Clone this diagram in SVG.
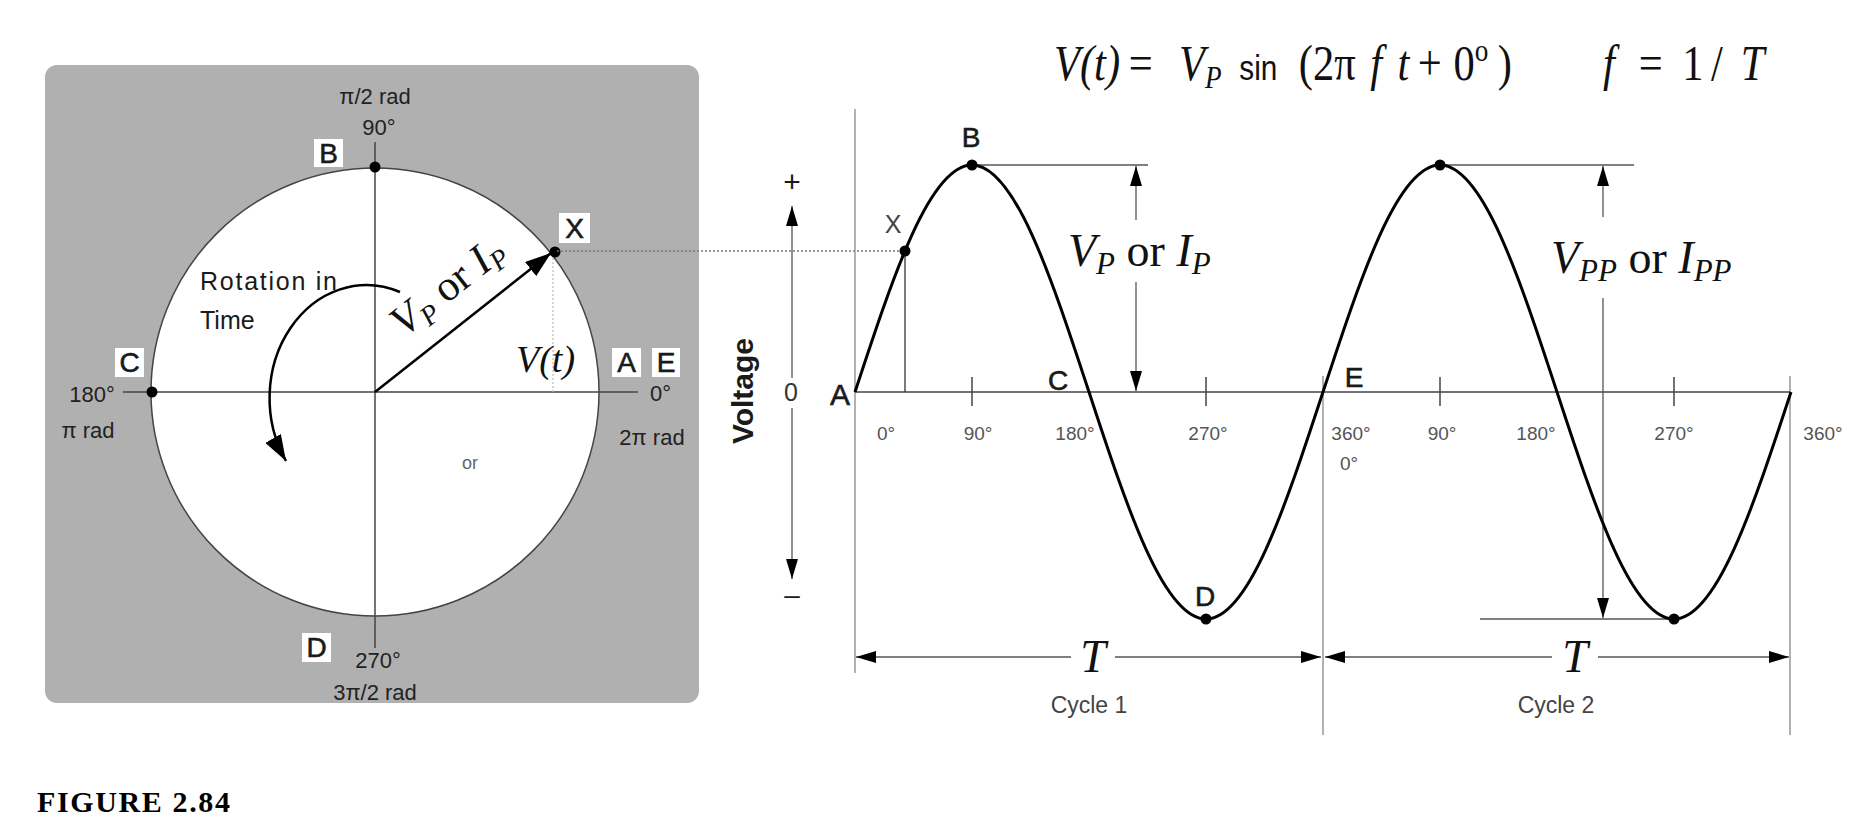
<svg xmlns="http://www.w3.org/2000/svg" width="1852" height="830" viewBox="0 0 1852 830">
<style>
.sans{font-family:"Liberation Sans",Arial,sans-serif;fill:#1a1a1a}
.serif{font-family:"Liberation Serif","Times New Roman",serif;fill:#111}
.it{font-style:italic}
.lbl{font-size:28px;stroke:#1a1a1a;stroke-width:0.6}
.ang{font-size:19px;fill:#555}
.cl{font-size:22px;fill:#222}
.box{fill:#fff}
.ax{stroke:#444;stroke-width:1.5;fill:none}
.gl{stroke:#999;stroke-width:1.5;fill:none}
.dim{stroke:#555;stroke-width:1.3;fill:none}
.dot{fill:#000}
</style>
<defs>
<marker id="ah" viewBox="0 0 20 12" refX="20" refY="6" markerWidth="20" markerHeight="12" markerUnits="userSpaceOnUse" orient="auto"><path d="M0,0 L20,6 L0,12 Z" fill="#000"/></marker>
<marker id="ahL" viewBox="0 0 26 18" refX="26" refY="9" markerWidth="26" markerHeight="18" markerUnits="userSpaceOnUse" orient="auto"><path d="M0,0 L26,9 L0,18 Z" fill="#000"/></marker>
</defs>

<!-- Left panel: phasor circle -->
<g id="phasor-panel">
<rect x="45" y="65" width="654" height="638" rx="12" fill="#b0b0b0"/>
<circle cx="375" cy="392" r="224" fill="#fff" stroke="#444" stroke-width="1.5"/>
<line class="ax" x1="123" y1="392" x2="638" y2="392"/>
<line class="ax" x1="375" y1="142" x2="375" y2="648"/>
<line x1="553" y1="254" x2="553" y2="392" stroke="#bbb" stroke-width="1.2" stroke-dasharray="2,2"/>
</g>

<g id="circle-labels">
<text class="sans cl" x="375" y="104" text-anchor="middle">π/2 rad</text>
<text class="sans cl" x="379" y="135" text-anchor="middle">90°</text>
<text class="sans cl" x="92" y="402" text-anchor="middle">180°</text>
<text class="sans cl" x="88" y="438" text-anchor="middle">π rad</text>
<text class="sans cl" x="650" y="401">0°</text>
<text class="sans cl" x="652" y="445" text-anchor="middle">2π rad</text>
<text class="sans cl" x="378" y="668" text-anchor="middle">270°</text>
<text class="sans cl" x="375" y="700" text-anchor="middle">3π/2 rad</text>
<text class="sans" x="200" y="290" font-size="25" textLength="137">Rotation in</text>
<text class="sans" x="200" y="329" font-size="25">Time</text>
<text class="sans" x="470" y="469" font-size="18" text-anchor="middle" style="fill:#666">or</text>
<text class="serif it" x="516" y="372" font-size="38">V(t)</text>
</g>

<g id="node-B-circle"><rect class="box" x="314" y="139" width="29" height="28"/><text class="sans lbl" x="328.5" y="163" text-anchor="middle">B</text></g>
<g id="node-C-circle"><rect class="box" x="115" y="348" width="29" height="29"/><text class="sans lbl" x="129.5" y="372" text-anchor="middle">C</text></g>
<g id="node-A-circle"><rect class="box" x="612" y="348" width="29" height="29"/><text class="sans lbl" x="626.5" y="372" text-anchor="middle">A</text></g>
<g id="node-E-circle"><rect class="box" x="652" y="348" width="28" height="29"/><text class="sans lbl" x="666" y="372" text-anchor="middle">E</text></g>
<g id="node-D-circle"><rect class="box" x="302" y="633" width="29" height="29"/><text class="sans lbl" x="316.5" y="657" text-anchor="middle">D</text></g>
<g id="node-X-circle"><rect class="box" x="559" y="213" width="31" height="30"/><text class="sans lbl" x="574.5" y="238" text-anchor="middle">X</text></g>

<g id="circle-phasor">
<line x1="375" y1="392" x2="551" y2="253" stroke="#000" stroke-width="2.5" marker-end="url(#ahL)"/>
<text class="serif" transform="translate(404,338) rotate(-38.4)" font-size="43"><tspan font-style="italic">V</tspan><tspan font-style="italic" font-size="28" dy="7">P</tspan><tspan dy="-7"> or </tspan><tspan font-style="italic">I</tspan><tspan font-style="italic" font-size="28" dy="7">P</tspan></text>
<path d="M400,292 A97,113 0 0 0 286,461" fill="none" stroke="#000" stroke-width="2.5" marker-end="url(#ahL)"/>
<circle class="dot" cx="375" cy="167" r="5.5"/>
<circle class="dot" cx="152" cy="392" r="5.5"/>
<circle class="dot" cx="555" cy="252" r="5.5"/>
</g>

<!-- Formula -->
<g id="formula">
<text class="serif it" y="80" font-size="50" transform="scale(0.85,1)"><tspan x="1240">V(t)</tspan><tspan x="1328" font-style="normal">=</tspan><tspan x="1387">V</tspan><tspan dy="8" font-size="32">P</tspan><tspan x="1458" dy="-8" font-style="normal" font-size="35" style="font-family:'Liberation Sans',Arial,sans-serif">sin</tspan><tspan x="1528" font-style="normal">(2π</tspan><tspan x="1612">f</tspan><tspan x="1644">t</tspan><tspan x="1668" font-style="normal">+</tspan><tspan x="1710" font-style="normal">0</tspan><tspan x="1735" dy="-19" font-size="32" font-style="normal">o</tspan><tspan x="1762" dy="19" font-style="normal">)</tspan><tspan x="1886">f</tspan><tspan x="1928" font-style="normal">=</tspan><tspan x="1979" font-style="normal">1</tspan><tspan x="2013" font-style="normal">/</tspan><tspan x="2048">T</tspan></text>
</g>

<!-- Right panel: waveform -->
<g id="connectors">
<line x1="557" y1="251" x2="905" y2="251" stroke="#777" stroke-width="1.4" stroke-dasharray="2,2"/>
<line class="gl" x1="855" y1="109" x2="855" y2="673"/>
<line class="gl" x1="1323" y1="376" x2="1323" y2="735"/>
<line class="gl" x1="1790" y1="376" x2="1790" y2="735"/>
<line class="ax" x1="855" y1="392" x2="1790" y2="392"/>
<line class="ax" x1="972" y1="377" x2="972" y2="406"/>
<line class="ax" x1="1206" y1="377" x2="1206" y2="406"/>
<line class="ax" x1="1440" y1="377" x2="1440" y2="406"/>
<line class="ax" x1="1674" y1="377" x2="1674" y2="406"/>
<line x1="905" y1="251" x2="905" y2="392" stroke="#333" stroke-width="1.3"/>
<!-- voltage axis arrow -->
<line class="dim" x1="792" y1="378" x2="792" y2="206" marker-end="url(#ah)"/>
<line class="dim" x1="792" y1="408" x2="792" y2="579" marker-end="url(#ah)"/>
<!-- Vp dimension -->
<line class="dim" x1="972" y1="165" x2="1148" y2="165"/>
<line class="dim" x1="1136" y1="220" x2="1136" y2="166" marker-end="url(#ah)"/>
<line class="dim" x1="1136" y1="282" x2="1136" y2="391" marker-end="url(#ah)"/>
<!-- Vpp dimension -->
<line class="dim" x1="1440" y1="165" x2="1634" y2="165"/>
<line class="dim" x1="1480" y1="619" x2="1674" y2="619"/>
<line class="dim" x1="1603" y1="217" x2="1603" y2="166" marker-end="url(#ah)"/>
<line class="dim" x1="1603" y1="298" x2="1603" y2="618" marker-end="url(#ah)"/>
<!-- period arrows -->
<line class="dim" x1="1071" y1="657" x2="856" y2="657" marker-end="url(#ah)"/>
<line class="dim" x1="1115" y1="657" x2="1321" y2="657" marker-end="url(#ah)"/>
<line class="dim" x1="1552" y1="657" x2="1325" y2="657" marker-end="url(#ah)"/>
<line class="dim" x1="1598" y1="657" x2="1789" y2="657" marker-end="url(#ah)"/>
</g>

<g id="sine-wave">
<path d="M855,392 C893.2,275.7 929.7,165 972,165 C1014.3,165 1050.8,275.7 1089,392 C1127.2,508.3 1163.7,619 1206,619 C1248.3,619 1284.8,508.3 1323,392 C1361.2,275.7 1397.7,165 1440,165 C1482.3,165 1518.8,275.7 1557,392 C1595.2,508.3 1631.7,619 1674,619 C1716.3,619 1752.8,508.3 1791,392" fill="none" stroke="#000" stroke-width="3"/>
<circle class="dot" cx="905" cy="251" r="5.5"/>
<circle class="dot" cx="972" cy="165" r="5.5"/>
<circle class="dot" cx="1206" cy="619" r="5.5"/>
<circle class="dot" cx="1440" cy="165" r="5.5"/>
<circle class="dot" cx="1674" cy="619" r="5.5"/>
</g>

<g id="wave-labels">
<text class="sans" x="742" y="391" font-size="30" font-weight="bold" text-anchor="middle" dominant-baseline="central" transform="rotate(-90 742 391)">Voltage</text>
<text class="sans" x="792" y="192" font-size="30" text-anchor="middle">+</text>
<text class="sans" x="792" y="604" font-size="28" text-anchor="middle">–</text>
<text class="sans" x="791" y="401" font-size="25" text-anchor="middle" style="fill:#333">0</text>
<text class="sans lbl" x="840" y="405" text-anchor="middle" style="font-size:30px">A</text>
<text class="sans lbl" x="971" y="147" text-anchor="middle">B</text>
<text class="sans lbl" x="1058" y="390" text-anchor="middle">C</text>
<text class="sans lbl" x="1205" y="606" text-anchor="middle">D</text>
<text class="sans lbl" x="1354" y="387" text-anchor="middle">E</text>
<text class="sans" x="893" y="233" font-size="25" text-anchor="middle" style="fill:#444">X</text>
<text class="sans ang" x="886" y="440" text-anchor="middle">0°</text>
<text class="sans ang" x="978" y="440" text-anchor="middle">90°</text>
<text class="sans ang" x="1075" y="440" text-anchor="middle">180°</text>
<text class="sans ang" x="1208" y="440" text-anchor="middle">270°</text>
<text class="sans ang" x="1351" y="440" text-anchor="middle">360°</text>
<text class="sans ang" x="1349" y="470" text-anchor="middle">0°</text>
<text class="sans ang" x="1442" y="440" text-anchor="middle">90°</text>
<text class="sans ang" x="1536" y="440" text-anchor="middle">180°</text>
<text class="sans ang" x="1674" y="440" text-anchor="middle">270°</text>
<text class="sans ang" x="1823" y="440" text-anchor="middle">360°</text>
<text class="serif" x="1068" y="266" font-size="46"><tspan font-style="italic">V</tspan><tspan font-style="italic" font-size="31" dy="8">P</tspan><tspan dy="-8"> or </tspan><tspan font-style="italic">I</tspan><tspan font-style="italic" font-size="31" dy="8">P</tspan></text>
<text class="serif" x="1551" y="273" font-size="46"><tspan font-style="italic">V</tspan><tspan font-style="italic" font-size="31" dy="8">PP</tspan><tspan dy="-8"> or </tspan><tspan font-style="italic">I</tspan><tspan font-style="italic" font-size="31" dy="8">PP</tspan></text>
<text class="serif it" x="1093" y="672" font-size="46" text-anchor="middle">T</text>
<text class="serif it" x="1575" y="672" font-size="46" text-anchor="middle">T</text>
<text class="sans" x="1089" y="713" font-size="23" text-anchor="middle" style="fill:#444">Cycle 1</text>
<text class="sans" x="1556" y="713" font-size="23" text-anchor="middle" style="fill:#444">Cycle 2</text>
</g>

<g id="caption">
<text class="serif" x="37" y="812" font-size="30" font-weight="bold" textLength="193" style="fill:#000">FIGURE 2.84</text>
</g>
</svg>
